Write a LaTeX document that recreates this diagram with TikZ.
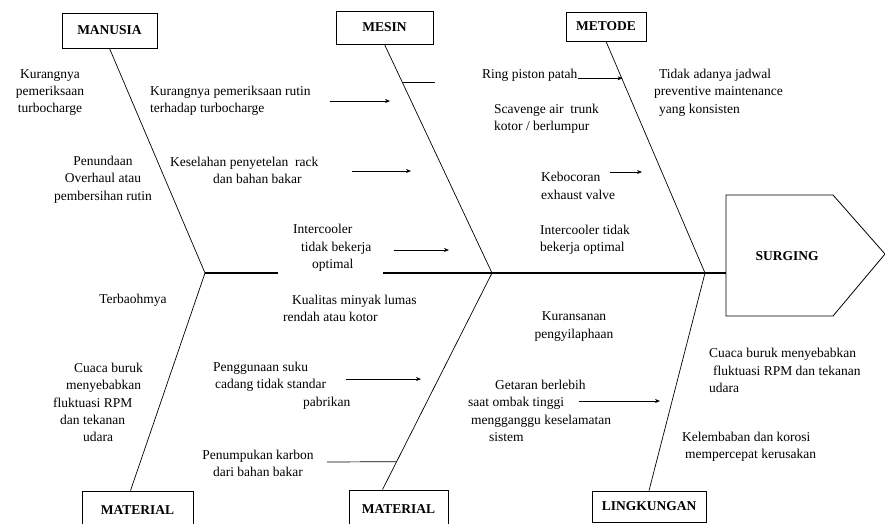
\documentclass[tikz,border=0pt]{standalone}
\usepackage{fontspec}
\setmainfont{Liberation Serif}
\usetikzlibrary{arrows.meta,calc}

\begin{document}
\begin{tikzpicture}[x=1pt,y=-1pt,font=\fontsize{13.5}{17.3}\selectfont,
    catbox/.style={draw,line width=0.8pt,inner sep=0pt,font=\fontsize{13.5}{16}\selectfont\bfseries},
    cause/.style={align=left,inner sep=0pt,anchor=west},
    bone/.style={line width=0.7pt},
    spine/.style={line width=1.3pt},
    arr/.style={line width=0.7pt,-{Stealth[length=5pt,width=4pt]}}]
    \useasboundingbox (0,0) rectangle (885,523);
    % head
    \draw[line width=0.8pt] (726,195) -- (833,195) -- (885,254) -- (833,316) -- (726,316) -- cycle;
    \node[font=\fontsize{13.5}{16}\selectfont\bfseries] (surging) at (787,256) {SURGING};
    \coordinate (head) at (726,273);
    % category boxes
    \node[catbox,minimum width=95pt,minimum height=35pt] (manusia) at (109.5,30.5) {MANUSIA};
    \node[catbox,minimum width=97pt,minimum height=33pt] (mesin) at (384.5,27.5) {MESIN};
    \node[catbox,minimum width=80pt,minimum height=29pt] (metode) at (606,26.5) {METODE};
    \node[catbox,minimum width=111pt,minimum height=38pt] (material1) at (137.5,510) {MATERIAL};
    \node[catbox,minimum width=99pt,minimum height=38pt] (material2) at (398.5,509) {MATERIAL};
    \node[catbox,minimum width=114pt,minimum height=31pt] (lingkungan) at (649,506.5) {LINGKUNGAN};
    % spine and bones
    \coordinate (j1) at (205,273);
    \coordinate (j2) at (492,273);
    \coordinate (j3) at (705,273);
    \coordinate (gapl) at (278,273);
    \coordinate (gapr) at (383,273);
    \coordinate (m1top) at ([xshift=-7pt]material1.north);
    \coordinate (m2top) at ([xshift=-16pt]material2.north);
    \draw[spine] (j1) -- (gapl);
    \draw[spine] (gapr) -- (head);
    \draw[bone] (manusia.south) -- (j1);
    \draw[bone] (mesin.south) -- (j2);
    \draw[bone] (metode.south) -- (j3);
    \draw[bone] (m1top) -- (j1);
    \draw[bone] (m2top) -- (j2);
    \draw[bone] (lingkungan.north) -- (j3);
    \draw[bone] ($(mesin.south)!0.166!(j2)$) -- ++(33,0);
    % causes: manusia
    \node[align=center,inner sep=0pt] (c1) at (50,92.5) {Kurangnya\\pemeriksaan\\turbocharge};
    \node[cause] (c2) at (150,101) {Kurangnya pemeriksaan rutin\\terhadap turbocharge};
    \node[align=center,inner sep=0pt] (c3) at (103,179.5) {Penundaan\\Overhaul atau\\pembersihan rutin};
    \node[cause] (c4) at (170,170.5) {Keselahan penyetelan\ \ rack\\\hspace*{43pt}dan bahan bakar};
    \node[cause] (c5) at (293,248) {Intercooler\\\hspace*{8pt}tidak bekerja\\\hspace*{19pt}optimal};
    % causes: mesin
    \node[cause] (ring) at (482,75) {Ring piston patah};
    \node[cause] (c6) at (494,118.5) {Scavenge air\ \ trunk\\kotor / berlumpur};
    \node[cause] (c7) at (541,186) {Kebocoran\\exhaust valve};
    \node[cause] (c8) at (540,239.5) {Intercooler tidak\\bekerja optimal};
    % causes: metode
    \node[cause] (c9) at (654,92.5) {\hspace*{5pt}Tidak adanya jadwal\\preventive maintenance\\\hspace*{5pt}yang konsisten};
    % causes: material
    \node[inner sep=0pt] (c10) at (133,300) {Terbaohmya};
    \node[cause] (c11) at (53,402.5) {\hspace*{21pt}Cuaca buruk\\\hspace*{13pt}menyebabkan\\fluktuasi RPM\\\hspace*{7pt}dan tekanan\\\hspace*{30pt}udara};
    \node[cause] (c12) at (283,308.5) {\hspace*{9pt}Kualitas minyak lumas\\rendah atau kotor};
    \node[cause] (c13) at (213,385.5) {Penggunaan suku\\\hspace*{2pt}cadang tidak standar\\\hspace*{90pt}pabrikan};
    \node[align=center,inner sep=0pt] (c14) at (258,463.5) {Penumpukan karbon\\dari bahan bakar};
    % causes: lingkungan
    \node[align=center,inner sep=0pt] (c15) at (574,326.5) {Kuransanan\\pengyilaphaan};
    \node[cause] (c16) at (468,411) {\hspace*{27pt}Getaran berlebih\\saat ombak tinggi\\\hspace*{3pt}mengganggu keselamatan\\\hspace*{21pt}sistem};
    \node[cause] (c17) at (709,370.5) {Cuaca buruk menyebabkan\\\hspace*{4pt}fluktuasi RPM dan tekanan\\udara};
    \node[cause] (c18) at (682,446.5) {Kelembaban dan korosi\\\hspace*{3pt}mempercepat kerusakan};
    % arrows
    \coordinate (a1) at (330,101);
    \coordinate (a2) at (352,171);
    \coordinate (a4) at (610,172);
    \coordinate (a5) at (394,250);
    \coordinate (a6) at (346,379);
    \coordinate (a7) at (327,462);
    \coordinate (a8) at (579,401);
    \draw[arr] (a1) -- ++(60,0);
    \draw[arr] (a2) -- ++(59,0);
    \draw[arr] (ring.base east) -- ++(45,0);
    \draw[arr] (a4) -- ++(32,0);
    \draw[arr] (a5) -- ++(55,0);
    \draw[arr] (a6) -- ++(75,0);
    \draw[bone] (a7) -- ($(j2)!0.871!(m2top)$);
    \draw[arr] (a8) -- ++(81,0);
\end{tikzpicture}
\end{document}
